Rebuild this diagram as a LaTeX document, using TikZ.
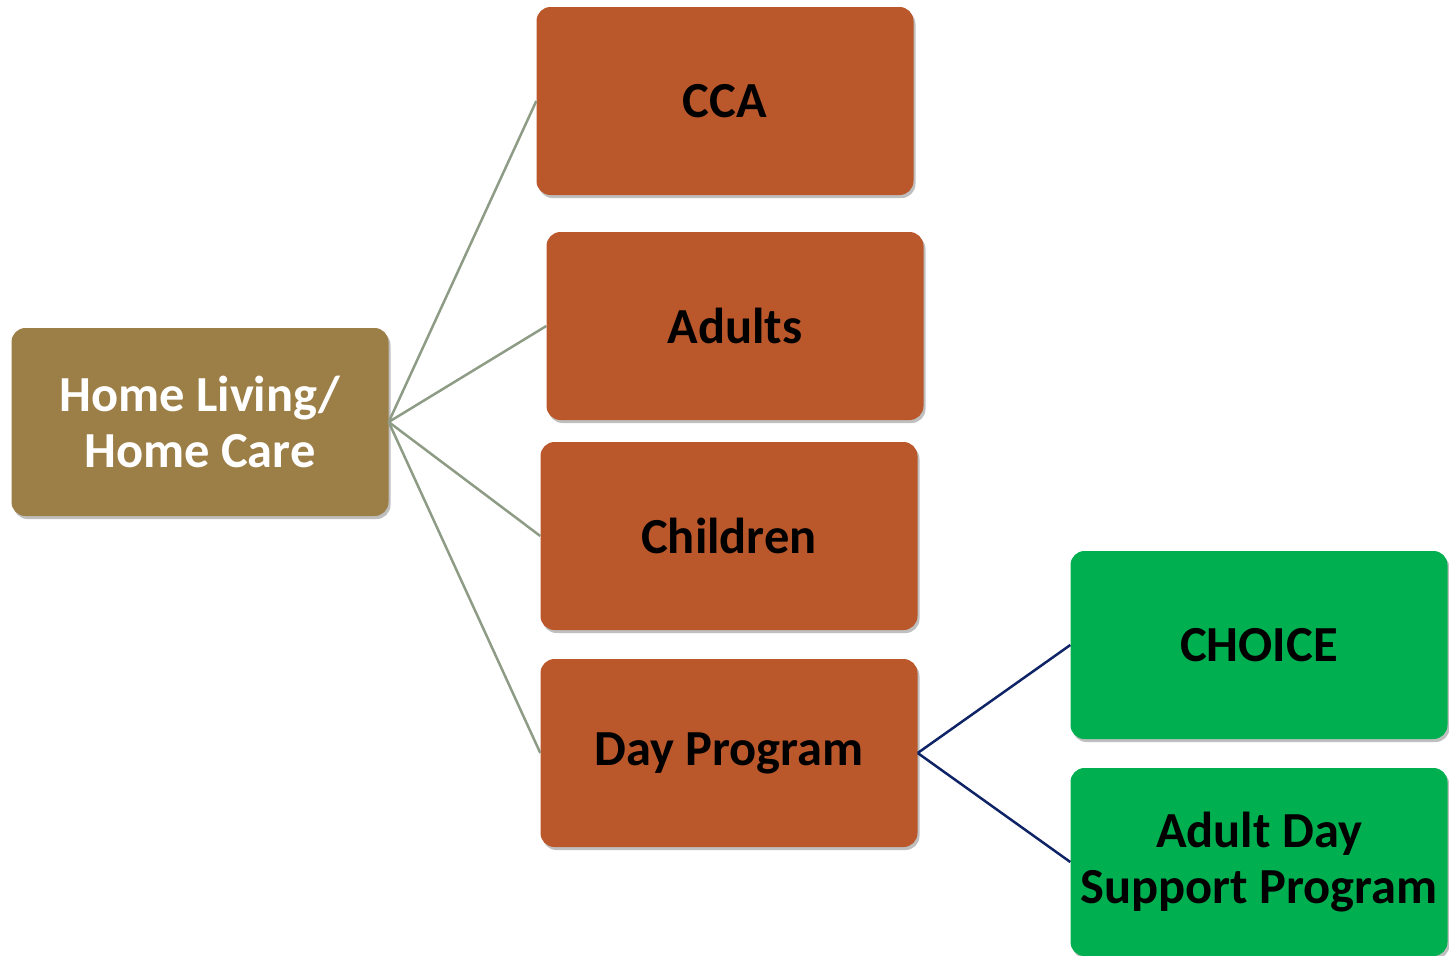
\documentclass[tikz,border=0pt]{standalone}
\usepackage{fontspec}
\setmainfont{Carlito}
\usetikzlibrary{shadows}

\definecolor{homebrown}{HTML}{9C7E47}
\definecolor{rust}{HTML}{BA582C}
\definecolor{leaf}{HTML}{00AF50}
\definecolor{twig}{HTML}{8E9C86}
\definecolor{navy}{HTML}{0F2466}

\tikzset{
  card/.style={rounded corners=14pt, minimum width=377pt, minimum height=188pt,
    inner xsep=2pt, align=center, font=\fontsize{50.5}{56}\selectfont\bfseries,
    drop shadow={opacity=0.5, shadow xshift=2pt, shadow yshift=-3pt}},
  rootcard/.style={card, fill=homebrown, text=white},
  subcard/.style={card, fill=rust, text=black},
  leafcard/.style={card, fill=leaf, text=black},
  twigline/.style={draw=twig, line width=2.5pt},
  navyline/.style={draw=navy, line width=2.5pt}
}

\begin{document}
\begin{tikzpicture}[x=1pt, y=-1pt]
        \useasboundingbox (0,0) rectangle (1449,956);

        % Root of the tree
        \node[rootcard] (home) at (200,422) {Home Living/\\Home Care};

        % Second level
        \node[subcard] (cca) at (725,101) {CCA};
        \node[subcard] (adults) at (735,326) {Adults};
        \node[subcard] (children) at (729,536) {Children};
        \node[subcard] (day) at (729,753) {Day Program};

        % Third level
        \node[leafcard] (choice) at (1259,645) {CHOICE};
        \node[leafcard] (adultday) at (1259,862) {Adult Day\\Support Program};

        % Connectors
        \draw[twigline] (home.east) -- (cca.west);
        \draw[twigline] (home.east) -- (adults.west);
        \draw[twigline] (home.east) -- (children.west);
        \draw[twigline] (home.east) -- (day.west);
        \draw[navyline] (day.east) -- (choice.west);
        \draw[navyline] (day.east) -- (adultday.west);
\end{tikzpicture}
\end{document}
